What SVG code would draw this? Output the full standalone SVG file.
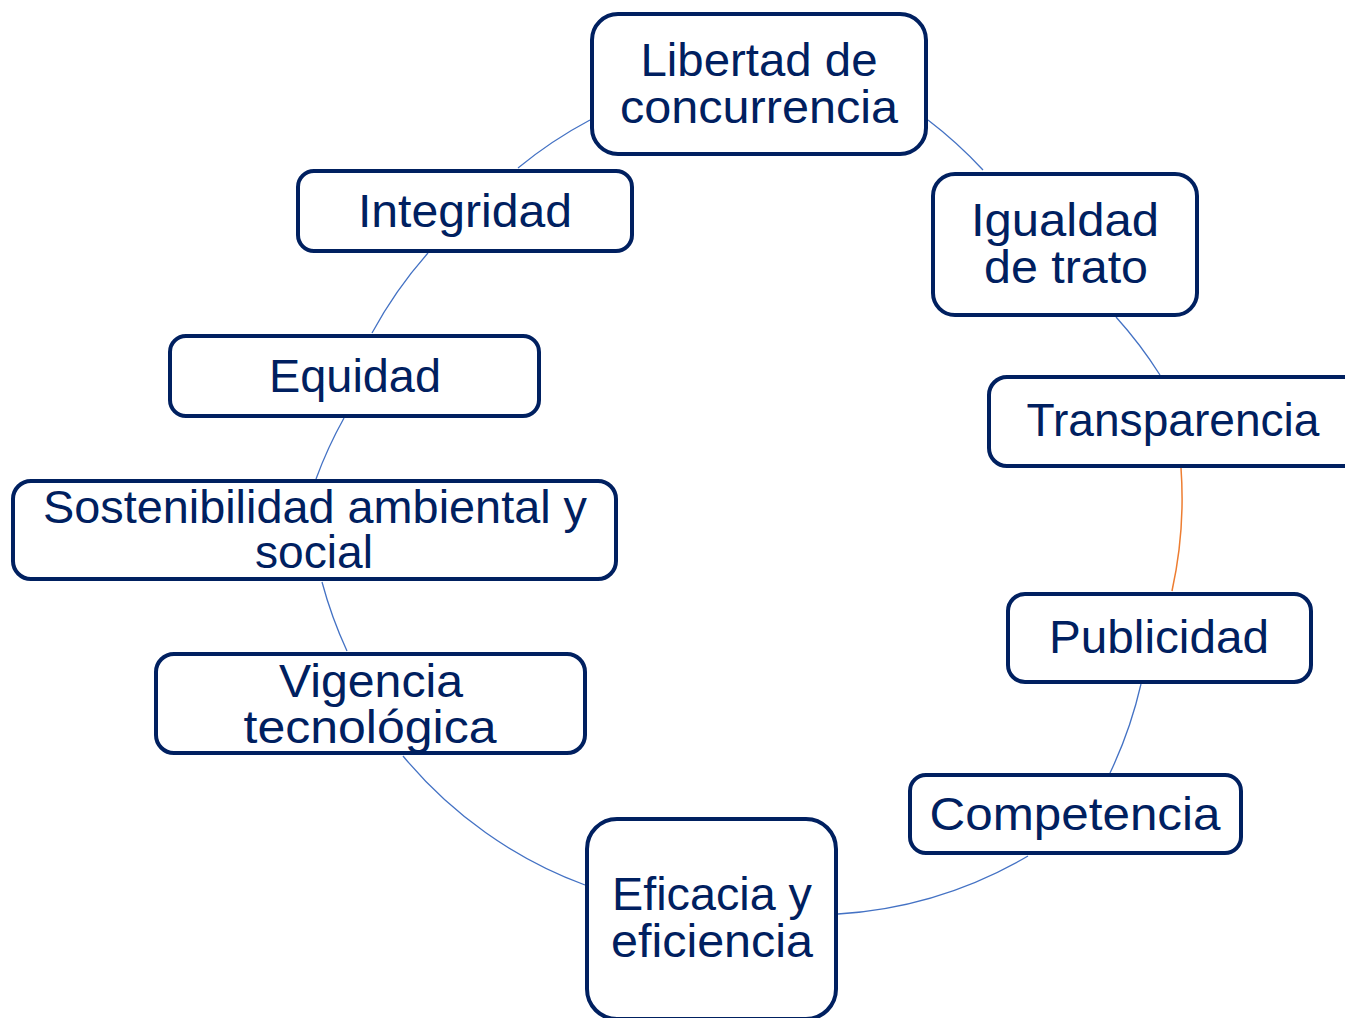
<svg xmlns="http://www.w3.org/2000/svg" width="1345" height="1018" viewBox="0 0 1345 1018">
<style>
.box{fill:#fff;stroke:#002060;stroke-width:4}
.t{font-family:"Liberation Sans",Arial,sans-serif;font-size:46px;fill:#002060;text-anchor:middle}
.c{fill:none;stroke:#4472C4;stroke-width:1.3}
.o{fill:none;stroke:#ED7D31;stroke-width:1.5}
</style>
<rect width="1345" height="1018" fill="#fff"/>
<g id="connectors">
<path class="c" d="M928,120 A430,430 0 0 1 983,170"/>
<path class="c" d="M1116,317 A430,430 0 0 1 1160,375"/>
<path class="o" d="M1181,468 A430,430 0 0 1 1172,591"/>
<path class="c" d="M1141,684 A430,430 0 0 1 1110,773"/>
<path class="c" d="M1028,856 A430,430 0 0 1 838,914"/>
<path class="c" d="M585,885 A430,430 0 0 1 403,756"/>
<path class="c" d="M347,651 A430,430 0 0 1 322,582"/>
<path class="c" d="M316,479 A430,430 0 0 1 344,418"/>
<path class="c" d="M372,333 A430,430 0 0 1 428,253"/>
<path class="c" d="M518,168 A430,430 0 0 1 590,120"/>
</g>
<g id="libertad">
<rect class="box" x="592" y="14" width="334" height="140" rx="26"/>
<text class="t" x="759" y="76" textLength="237" lengthAdjust="spacingAndGlyphs">Libertad de</text>
<text class="t" x="759" y="123" textLength="278" lengthAdjust="spacingAndGlyphs">concurrencia</text>
</g>
<g id="igualdad">
<rect class="box" x="933" y="174" width="264" height="141" rx="22"/>
<text class="t" x="1065" y="236" textLength="188" lengthAdjust="spacingAndGlyphs">Igualdad</text>
<text class="t" x="1066" y="283" textLength="164" lengthAdjust="spacingAndGlyphs">de trato</text>
</g>
<g id="transparencia">
<rect class="box" x="989" y="377" width="380" height="89" rx="18"/>
<text class="t" x="1173" y="436" textLength="293" lengthAdjust="spacingAndGlyphs">Transparencia</text>
</g>
<g id="publicidad">
<rect class="box" x="1008" y="594" width="303" height="88" rx="17"/>
<text class="t" x="1159" y="653" textLength="220" lengthAdjust="spacingAndGlyphs">Publicidad</text>
</g>
<g id="competencia">
<rect class="box" x="910" y="775" width="331" height="78" rx="16"/>
<text class="t" x="1075" y="830" textLength="291" lengthAdjust="spacingAndGlyphs">Competencia</text>
</g>
<g id="eficacia">
<rect class="box" x="587" y="819" width="249" height="200" rx="30"/>
<text class="t" x="712" y="910" textLength="200" lengthAdjust="spacingAndGlyphs">Eficacia y</text>
<text class="t" x="712" y="957" textLength="202" lengthAdjust="spacingAndGlyphs">eficiencia</text>
</g>
<g id="vigencia">
<rect class="box" x="156" y="654" width="429" height="99" rx="18"/>
<text class="t" x="371" y="697" textLength="184" lengthAdjust="spacingAndGlyphs">Vigencia</text>
<text class="t" x="370" y="743" textLength="253" lengthAdjust="spacingAndGlyphs">tecnológica</text>
</g>
<g id="sostenibilidad">
<rect class="box" x="13" y="481" width="603" height="98" rx="18"/>
<text class="t" x="315" y="523" textLength="544" lengthAdjust="spacingAndGlyphs">Sostenibilidad ambiental y</text>
<text class="t" x="314" y="568" textLength="118" lengthAdjust="spacingAndGlyphs">social</text>
</g>
<g id="equidad">
<rect class="box" x="170" y="336" width="369" height="80" rx="16"/>
<text class="t" x="355" y="392" textLength="172" lengthAdjust="spacingAndGlyphs">Equidad</text>
</g>
<g id="integridad">
<rect class="box" x="298" y="171" width="334" height="80" rx="16"/>
<text class="t" x="465" y="227" textLength="214" lengthAdjust="spacingAndGlyphs">Integridad</text>
</g>
</svg>
